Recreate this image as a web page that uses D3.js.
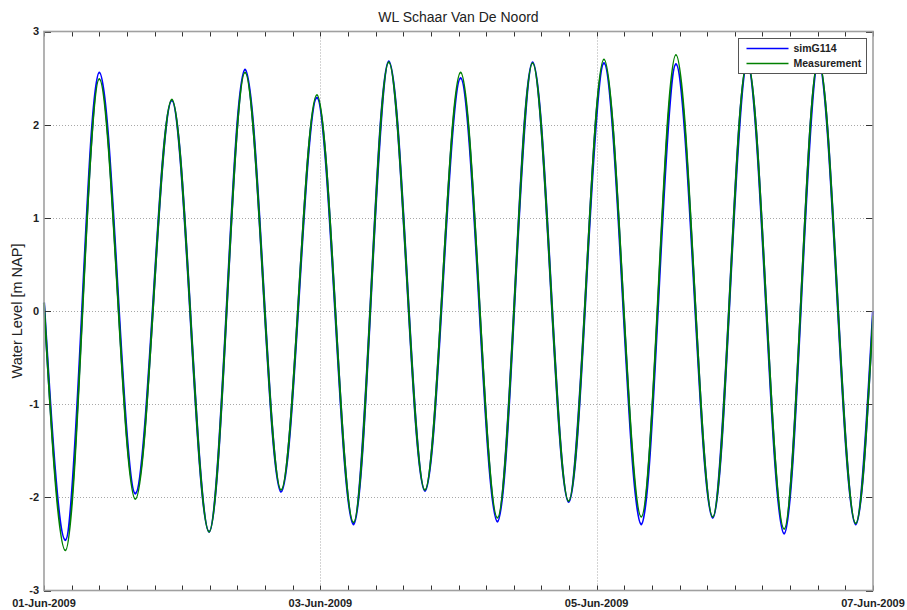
<!DOCTYPE html>
<html>
<head>
<meta charset="utf-8">
<style>
  html, body { margin: 0; padding: 0; background: #fff; }
  svg { display: block; font-family: 'Liberation Sans', Arial, sans-serif; }
</style>
<script src="https://cdn.jsdelivr.net/npm/d3@7.9.0/dist/d3.min.js"></script>
</head>
<body>
<svg id="chart" width="907" height="610"></svg>
<script>
const TITLE = 'WL Schaar Van De Noord';
const Y_LABEL = 'Water Level [m NAP]';
const SERIES_NAMES = ['simG114', 'Measurement'];
const SERIES_COLORS = ['#0000ff', '#008000'];

// turning points of the tide (start, every low and high, end)
const times = [
  '2009-06-01 00:00', '2009-06-01 03:43', '2009-06-01 09:36', '2009-06-01 15:52', '2009-06-01 22:12',
  '2009-06-02 04:41', '2009-06-02 10:55', '2009-06-02 17:11', '2009-06-02 23:24',
  '2009-06-03 05:46', '2009-06-03 11:53', '2009-06-03 18:10',
  '2009-06-04 00:22', '2009-06-04 06:46', '2009-06-04 12:52', '2009-06-04 19:08',
  '2009-06-05 01:16', '2009-06-05 07:45', '2009-06-05 13:46', '2009-06-05 20:10',
  '2009-06-06 02:10', '2009-06-06 08:34', '2009-06-06 14:31', '2009-06-06 21:00',
  '2009-06-07 00:00',
];
const simG114 = [
  0.09, -2.46, 2.56, -1.96, 2.26,
  -2.37, 2.59, -1.94, 2.29,
  -2.29, 2.68, -1.93,
  2.50, -2.26, 2.67, -2.05,
  2.66, -2.29, 2.65, -2.22,
  2.66, -2.39, 2.68, -2.29,
  0.0,
];
const measurement = [
  0.09, -2.57, 2.49, -2.02, 2.27,
  -2.37, 2.56, -1.92, 2.32,
  -2.27, 2.67, -1.92,
  2.56, -2.22, 2.66, -2.04,
  2.70, -2.21, 2.75, -2.21,
  2.68, -2.34, 2.70, -2.28,
  -0.05,
];

const yTicks = [-3, -2, -1, 0, 1, 2, 3];
const dateTicks = ['2009-06-01 00:00', '2009-06-03 00:00', '2009-06-05 00:00', '2009-06-07 00:00'];
const dateTickLabels = ['01-Jun-2009', '03-Jun-2009', '05-Jun-2009', '07-Jun-2009'];

const width = 907;
const height = 610;
const margin = { top: 31.5, right: 34, bottom: 19.5, left: 44 };

const parseTime = d3.utcParse('%Y-%m-%d %H:%M');
const dates = times.map(parseTime);
const labelDates = dateTicks.map(parseTime);

const x = d3.scaleUtc()
  .domain([labelDates[0], labelDates[labelDates.length - 1]])
  .range([margin.left, width - margin.right]);

const y = d3.scaleLinear()
  .domain([-3, 3])
  .range([height - margin.bottom, margin.top]);

// minor ticks every 0.2 day like the original axes
const dayMs = 864e5;
const minorTicks = d3.range(0, 30.5).map((i) => new Date(+labelDates[0] + i * 0.2 * dayMs));

const svg = d3.select('#chart');

// grid
const grid = svg.append('g').attr('stroke', '#a8a8a8').attr('stroke-width', 1).attr('stroke-dasharray', '1,2');
grid.selectAll('line.h')
  .data(yTicks.slice(1, -1))
  .join('line')
  .attr('x1', margin.left)
  .attr('x2', width - margin.right)
  .attr('y1', (d) => Math.round(y(d)) + 0.5)
  .attr('y2', (d) => Math.round(y(d)) + 0.5);
grid.selectAll('line.v')
  .data(labelDates.slice(1, -1))
  .join('line')
  .attr('x1', (d) => Math.round(x(d)) + 0.5)
  .attr('x2', (d) => Math.round(x(d)) + 0.5)
  .attr('y1', margin.top)
  .attr('y2', height - margin.bottom);

// series
const line = d3.line()
  .x((d) => x(d[0]))
  .y((d) => y(d[1]))
  .curve(d3.curveMonotoneX);

[simG114, measurement].forEach((values, i) => {
  svg.append('path')
    .datum(dates.map((d, j) => [d, values[j]]))
    .attr('fill', 'none')
    .attr('stroke', SERIES_COLORS[i])
    .attr('stroke-width', i === 0 ? 2.2 : 1.8)
    .attr('stroke-linejoin', 'round')
    .attr('d', line);
});

// axes box
const x0 = margin.left;
const x1 = width - margin.right;
const y0 = height - margin.bottom;
const y1 = margin.top;

const ticks = svg.append('g').attr('stroke', '#333').attr('stroke-width', 1);
ticks.selectAll('line.xb')
  .data(minorTicks)
  .join('line')
  .attr('x1', (d) => Math.round(x(d)) + 0.5)
  .attr('x2', (d) => Math.round(x(d)) + 0.5)
  .attr('y1', y0)
  .attr('y2', y0 - 5);
ticks.selectAll('line.xt')
  .data(minorTicks)
  .enter()
  .append('line')
  .attr('x1', (d) => Math.round(x(d)) + 0.5)
  .attr('x2', (d) => Math.round(x(d)) + 0.5)
  .attr('y1', y1)
  .attr('y2', y1 + 5);
ticks.selectAll('line.yl')
  .data(yTicks)
  .enter()
  .append('line')
  .attr('x1', x0)
  .attr('x2', x0 + 7)
  .attr('y1', (d) => Math.round(y(d)) + 0.5)
  .attr('y2', (d) => Math.round(y(d)) + 0.5);
ticks.selectAll('line.yr')
  .data(yTicks)
  .enter()
  .append('line')
  .attr('x1', x1)
  .attr('x2', x1 - 7)
  .attr('y1', (d) => Math.round(y(d)) + 0.5)
  .attr('y2', (d) => Math.round(y(d)) + 0.5);

svg.append('rect')
  .attr('x', x0)
  .attr('y', y1)
  .attr('width', x1 - x0)
  .attr('height', y0 - y1)
  .attr('fill', 'none')
  .attr('stroke', '#a0a0a0')
  .attr('stroke-width', 1.6);

// tick labels
svg.append('g')
  .selectAll('text')
  .data(yTicks)
  .join('text')
  .attr('x', x0 - 5)
  .attr('y', (d) => y(d))
  .attr('dy', '0.35em')
  .attr('text-anchor', 'end')
  .attr('font-size', 11)
  .attr('font-weight', 'bold')
  .attr('fill', '#222')
  .text((d) => d);

svg.append('g')
  .selectAll('text')
  .data(labelDates)
  .join('text')
  .attr('x', (d) => x(d))
  .attr('y', y0 + 16)
  .attr('text-anchor', 'middle')
  .attr('font-size', 11)
  .attr('font-weight', 'bold')
  .attr('fill', '#222')
  .text((d, i) => dateTickLabels[i]);

// title and axis label
svg.append('text')
  .attr('x', (x0 + x1) / 2)
  .attr('y', 22)
  .attr('text-anchor', 'middle')
  .attr('font-size', 14)
  .attr('fill', '#222')
  .text(TITLE);

svg.append('text')
  .attr('transform', `translate(22,${(y0 + y1) / 2}) rotate(-90)`)
  .attr('text-anchor', 'middle')
  .attr('font-size', 14.5)
  .attr('fill', '#222')
  .text(Y_LABEL);

// legend
const legend = svg.append('g').attr('transform', 'translate(738.5,38.5)');
legend.append('rect')
  .attr('width', 128)
  .attr('height', 35)
  .attr('fill', '#fff')
  .attr('stroke', '#555')
  .attr('stroke-width', 1);

SERIES_NAMES.forEach((name, i) => {
  const row = legend.append('g').attr('transform', `translate(0,${10 + i * 15})`);
  row.append('line')
    .attr('x1', 8)
    .attr('x2', 50)
    .attr('stroke', SERIES_COLORS[i])
    .attr('stroke-width', 1.6);
  row.append('text')
    .attr('x', 55)
    .attr('dy', '0.35em')
    .attr('font-size', 10.5)
    .attr('font-weight', 'bold')
    .attr('fill', '#222')
    .text(name);
});
</script>
</body>
</html>
